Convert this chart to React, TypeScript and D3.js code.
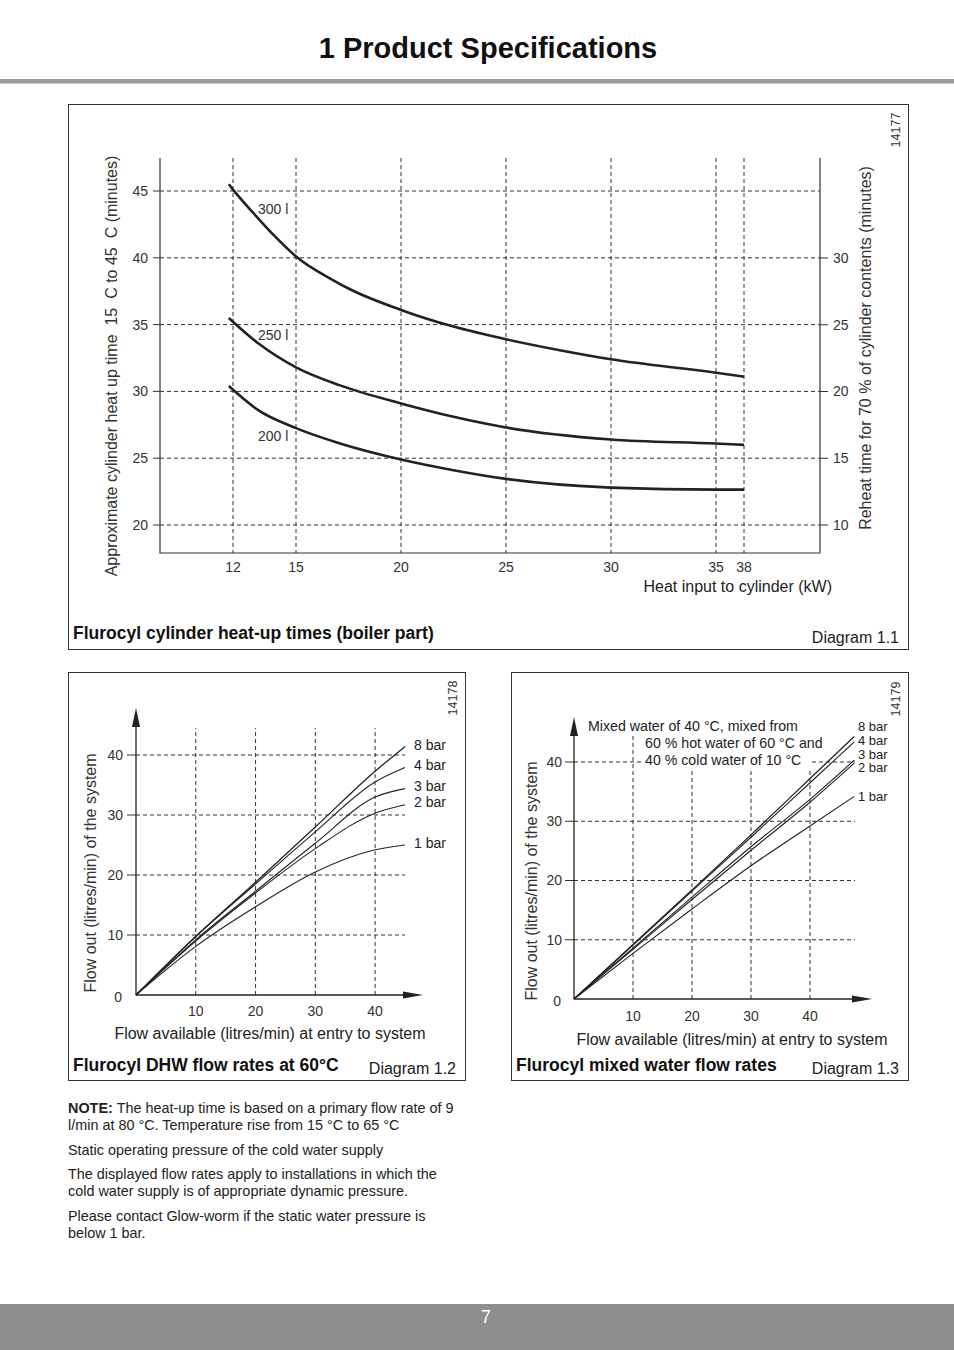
import React from "react";
import * as d3 from "d3";

const FONT = "'Liberation Sans', Arial, Helvetica, sans-serif";
const INK = "#222";

// ---------- Diagram 1.1 data ----------
const heatXTicks = [12, 15, 20, 25, 30, 35, 38];
const heatYTicksLeft = [20, 25, 30, 35, 40, 45];
const heatYTicksRight = [10, 15, 20, 25, 30];
const cyl300: [number, number][] = [[11.8, 45.5], [12, 45.1], [13, 43.3], [14, 41.6], [15, 40.1], [16.8, 38.3], [17.5, 37.7], [20, 36.1], [22.5, 34.85], [25, 33.9], [27.5, 33.1], [30, 32.4], [35, 31.4], [38, 31.1]];
const cyl250: [number, number][] = [[11.8, 35.5], [13.2, 33.6], [15, 31.8], [17.1, 30.45], [20, 29.1], [22.5, 28.1], [25, 27.3], [30, 26.4], [35, 26.1], [38, 26.0]];
const cyl200: [number, number][] = [[11.8, 30.4], [13.2, 28.6], [15, 27.25], [17.1, 26.1], [20, 24.9], [22.5, 24.1], [25, 23.45], [30, 22.8], [35, 22.65], [38, 22.65]];
const cylLabels = ["300 l", "250 l", "200 l"];

// ---------- Diagram 1.2 data ----------
const dhwX = [0, 10, 20, 30, 40, 45];
const dhw8 = [0, 9.8, 18.8, 28.0, 37.3, 41.4];
const dhw4 = [0, 9.7, 18.5, 27.2, 35.5, 37.9];
const dhw3 = [0, 9.2, 17.3, 25.3, 33.0, 34.4];
const dhw2 = [0, 9.0, 17.0, 24.4, 30.3, 31.7];
const dhw1 = [0, 8.1, 14.7, 20.5, 24.2, 25.0];
const barLabels = ["8 bar", "4 bar", "3 bar", "2 bar", "1 bar"];
const flowTicks = [10, 20, 30, 40];

// ---------- Diagram 1.3 data ----------
const mixX = [0, 10, 20, 30, 40, 47.5];
const mix8 = [0, 9.2, 18.4, 27.7, 37.2, 44.3];
const mix4 = [0, 9.1, 18.2, 27.3, 36.5, 43.4];
const mix3 = [0, 8.6, 17.2, 25.7, 33.7, 40.3];
const mix2 = [0, 8.4, 16.8, 25.1, 33.2, 39.8];
const mix1 = [0, 7.7, 15.2, 22.5, 29.2, 34.2];

const notes = [
  { bold: "NOTE: ", text: "The heat-up time is based on a primary flow rate of 9", gap: 0 },
  { bold: "", text: "l/min at 80 °C. Temperature rise from 15 °C to 65 °C", gap: 17 },
  { bold: "", text: "Static operating pressure of the cold water supply", gap: 25 },
  { bold: "", text: "The displayed flow rates apply to installations in which the", gap: 24 },
  { bold: "", text: "cold water supply is of appropriate dynamic pressure.", gap: 17 },
  { bold: "", text: "Please contact Glow-worm if the static water pressure is", gap: 25 },
  { bold: "", text: "below 1 bar.", gap: 17 },
];

const dash = "4,3";

function HeatChart() {
  const x = d3.scaleLinear().domain([12, 35, 38]).range([233, 716, 744]);
  const yL = d3.scaleLinear().domain([20, 45]).range([525, 191]);
  const yR = d3.scaleLinear().domain([10, 30]).range([525, 258]);
  const left = 160, right = 820, top = 158, bottom = 553;
  const line = d3.line<[number, number]>().x(d => x(d[0])).y(d => yL(d[1])).curve(d3.curveMonotoneX);
  const curves = [cyl300, cyl250, cyl200];
  return (
    <g fontFamily={FONT}>
      <rect x={68.5} y={104.5} width={840} height={545} fill="none" stroke="#333" strokeWidth={1} />
      {heatYTicksLeft.map(t => (
        <g key={"yl" + t}>
          <line x1={left} x2={right} y1={yL(t)} y2={yL(t)} stroke="#333" strokeDasharray={dash} />
          <line x1={left - 7} x2={left} y1={yL(t)} y2={yL(t)} stroke="#333" />
          <text x={148} y={yL(t)} dy="0.35em" textAnchor="end" fontSize={14} fill="#333">{t}</text>
        </g>
      ))}
      {heatYTicksRight.map(t => (
        <g key={"yr" + t}>
          <line x1={right} x2={right + 8} y1={yR(t)} y2={yR(t)} stroke="#333" />
          <text x={833} y={yR(t)} dy="0.35em" textAnchor="start" fontSize={14} fill="#333">{t}</text>
        </g>
      ))}
      {heatXTicks.map(t => (
        <g key={"x" + t}>
          <line x1={x(t)} x2={x(t)} y1={top} y2={bottom} stroke="#333" strokeDasharray={dash} />
          <text x={x(t)} y={572} textAnchor="middle" fontSize={14} fill="#333">{t}</text>
        </g>
      ))}
      <path d={`M${left},${top}V${bottom}H${right}V${top}`} fill="none" stroke="#333" strokeWidth={1.2} />
      {curves.map((c, i) => (
        <path key={i} d={line(c) || ""} fill="none" stroke={INK} strokeWidth={2.6} />
      ))}
      {cylLabels.map((l, i) => (
        <text key={l} x={258} y={[214, 340, 441][i]} fontSize={14} fill="#333">{l}</text>
      ))}
      <text transform="translate(111,366) rotate(-90)" textAnchor="middle" dominantBaseline="central" fontSize={16} fill="#333" style={{ whiteSpace: "pre" }}>
        {"Approximate cylinder heat up time  15  C to 45  C (minutes)"}
      </text>
      <text transform="translate(865,348) rotate(-90)" textAnchor="middle" dominantBaseline="central" fontSize={16} fill="#333">
        Reheat time for 70 % of cylinder contents (minutes)
      </text>
      <text transform="translate(896,130) rotate(-90)" textAnchor="middle" dominantBaseline="central" fontSize={12.5} fill="#333">14177</text>
      <text x={832} y={592} textAnchor="end" fontSize={16} fill="#222">Heat input to cylinder (kW)</text>
      <text x={73} y={639} fontSize={17.5} fontWeight="bold" fill="#111">Flurocyl cylinder heat-up times (boiler part)</text>
      <text x={899} y={643} textAnchor="end" fontSize={16} fill="#222">Diagram 1.1</text>
    </g>
  );
}

type FlowProps = {
  box: [number, number, number, number];
  xs: number[];
  series: number[][];
  xRange: [number, number];
  xDomainMax: number;
  yRange: [number, number];
  gridTop: number[];
  gridRight: number;
  yArrowTip: number;
  xArrowTip: number;
  tickLabelX: number;
  xTickY: number;
  labelX: number;
  labelYs: number[];
  labelSize: number;
  yTitle: [number, number];
  xTitle: [number, number];
  code: string;
  codePos: [number, number];
  caption: string;
  captionX: number;
  diagram: string;
  diagramX: number;
  annotation?: boolean;
};

function FlowChart(p: FlowProps) {
  const x = d3.scaleLinear().domain([0, p.xDomainMax]).range(p.xRange);
  const y = d3.scaleLinear().domain([0, 40]).range(p.yRange);
  const x0 = x(0), y0 = y(0);
  const line = d3.line<number>().x((_, i) => x(p.xs[i])).y(d => y(d)).curve(d3.curveMonotoneX);
  const [bx, by, bw, bh] = p.box;
  return (
    <g fontFamily={FONT}>
      <rect x={bx + 0.5} y={by + 0.5} width={bw} height={bh} fill="none" stroke="#333" strokeWidth={1} />
      {[10, 20, 30, 40].map(t => (
        <g key={"h" + t}>
          <line x1={x0} x2={p.gridRight} y1={y(t)} y2={y(t)} stroke="#333" strokeDasharray={dash} />
          <line x1={x0 - 9} x2={x0} y1={y(t)} y2={y(t)} stroke="#333" />
          <text x={p.tickLabelX} y={y(t)} dy="0.35em" textAnchor="end" fontSize={14} fill="#333">{t}</text>
        </g>
      ))}
      <text x={p.tickLabelX - 1} y={y0 + 7} textAnchor="end" fontSize={14} fill="#333">0</text>
      {flowTicks.map((t, i) => (
        <g key={"v" + t}>
          <line x1={x(t)} x2={x(t)} y1={y0} y2={p.gridTop[i]} stroke="#333" strokeDasharray={dash} />
          <text x={x(t)} y={p.xTickY} textAnchor="middle" fontSize={14} fill="#333">{t}</text>
        </g>
      ))}
      {p.annotation && (
        <g fontSize={14.2} fill="#222">
          <rect x={641} y={735} width={171} height={35} fill="#fff" />
          <text x={588} y={731}>Mixed water of 40 °C, mixed from</text>
          <text x={645} y={748}>60 % hot water of 60 °C and</text>
          <text x={645} y={765}>40 % cold water of 10 °C</text>
        </g>
      )}
      <line x1={x0} x2={x0} y1={y0} y2={p.yArrowTip + 15} stroke="#222" strokeWidth={1.3} />
      <path d={`M${x0},${p.yArrowTip}L${x0 - 4},${p.yArrowTip + 19}L${x0 + 4},${p.yArrowTip + 19}Z`} fill="#222" />
      <line x1={x0} x2={p.xArrowTip - 15} y1={y0} y2={y0} stroke="#222" strokeWidth={1.3} />
      <path d={`M${p.xArrowTip},${y0}L${p.xArrowTip - 20},${y0 - 3.5}L${p.xArrowTip - 20},${y0 + 3.5}Z`} fill="#222" />
      {p.series.map((s, i) => (
        <path key={i} d={line(s) || ""} fill="none" stroke="#222" strokeWidth={i === 0 ? 1.3 : 1.1} />
      ))}
      {barLabels.map((l, i) => (
        <text key={l} x={p.labelX} y={p.labelYs[i]} fontSize={p.labelSize} fill="#222">{l}</text>
      ))}
      <text transform={`translate(${p.yTitle[0]},${p.yTitle[1]}) rotate(-90)`} textAnchor="middle" dominantBaseline="central" fontSize={16} fill="#333">
        Flow out (litres/min) of the system
      </text>
      <text x={p.xTitle[0]} y={p.xTitle[1]} textAnchor="middle" fontSize={16} fill="#222">
        Flow available (litres/min) at entry to system
      </text>
      <text transform={`translate(${p.codePos[0]},${p.codePos[1]}) rotate(-90)`} textAnchor="middle" dominantBaseline="central" fontSize={12.5} fill="#333">{p.code}</text>
      <text x={p.captionX} y={1071} fontSize={17.5} fontWeight="bold" fill="#111">{p.caption}</text>
      <text x={p.diagramX} y={1074} textAnchor="end" fontSize={16} fill="#222">{p.diagram}</text>
    </g>
  );
}

export default function App() {
  let ny = 1113;
  return (
    <svg width={954} height={1350} viewBox="0 0 954 1350" style={{ position: "absolute", left: 0, top: 0, display: "block", background: "#fff" }}>
      <rect x={0} y={0} width={954} height={1350} fill="#fff" />
      <text x={488} y={58} textAnchor="middle" fontFamily={FONT} fontWeight="bold" fontSize={29} fill="#111">1 Product Specifications</text>
      <rect x={0} y={79} width={954} height={4.5} fill="#9b9a9a" />
      <HeatChart />
      <FlowChart
        box={[68, 672, 397, 408]}
        xs={dhwX}
        series={[dhw8, dhw4, dhw3, dhw2, dhw1]}
        xRange={[136, 405]}
        xDomainMax={45}
        yRange={[995, 755]}
        gridTop={[728, 728, 728, 728]}
        gridRight={405}
        yArrowTip={708}
        xArrowTip={423}
        tickLabelX={123}
        xTickY={1016}
        labelX={414}
        labelYs={[750, 770, 791, 807, 848]}
        labelSize={14}
        yTitle={[90, 873]}
        xTitle={[270, 1039]}
        code="14178"
        codePos={[453, 698]}
        caption="Flurocyl DHW flow rates at 60°C"
        captionX={73}
        diagram="Diagram 1.2"
        diagramX={456}
      />
      <FlowChart
        box={[511, 672, 397, 408]}
        xs={mixX}
        series={[mix8, mix4, mix3, mix2, mix1]}
        xRange={[574, 869]}
        xDomainMax={50}
        yRange={[999, 762]}
        gridTop={[733, 733, 733, 733]}
        gridRight={855}
        yArrowTip={717}
        xArrowTip={872}
        tickLabelX={562}
        xTickY={1021}
        labelX={858}
        labelYs={[731, 744.5, 758.5, 771.5, 801]}
        labelSize={13}
        yTitle={[531, 881]}
        xTitle={[732, 1045]}
        code="14179"
        codePos={[896, 699]}
        caption="Flurocyl mixed water flow rates"
        captionX={516}
        diagram="Diagram 1.3"
        diagramX={899}
        annotation
      />
      <g fontFamily={FONT} fontSize={14.4} fill="#222">
        {notes.map((n, i) => {
          ny += n.gap;
          return (
            <text key={i} x={68} y={ny}>
              {n.bold && <tspan fontWeight="bold">{n.bold}</tspan>}
              {n.text}
            </text>
          );
        })}
      </g>
      <rect x={0} y={1304} width={954} height={46} fill="#908e8f" />
      <text x={486} y={1323} textAnchor="middle" fontFamily={FONT} fontSize={18} fill="#fff">7</text>
    </svg>
  );
}
